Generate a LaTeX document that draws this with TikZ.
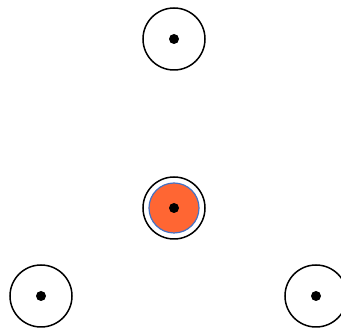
\documentclass[tikz,border=0pt]{standalone}
\begin{document}
\begin{tikzpicture}[x=1pt,y=-1pt,
  ring/.style={circle,draw=black,line width=1.5pt,minimum size=62pt,inner sep=0pt},
  core/.style={circle,fill=black,minimum size=10pt,inner sep=0pt},
  hot/.style={circle,fill={rgb,255:red,255;green,102;blue,51},draw={rgb,255:red,68;green,114;blue,196},line width=1.2pt,minimum size=50pt,inner sep=0pt}]
\useasboundingbox (0,0) rectangle (341,328);
\clip (0,0) rectangle (341,328);
\node[ring] (top) at (174,39) {};
\node[core] (topdot) at (174,39) {};
\node[ring] (mid) at (174,208) {};
\node[hot] (midfill) at (174,208) {};
\node[core] (middot) at (174,208) {};
\node[ring] (bl) at (41,296) {};
\node[core] (bldot) at (41,296) {};
\node[ring] (br) at (316,296) {};
\node[core] (brdot) at (316,296) {};
\end{tikzpicture}
\end{document}
